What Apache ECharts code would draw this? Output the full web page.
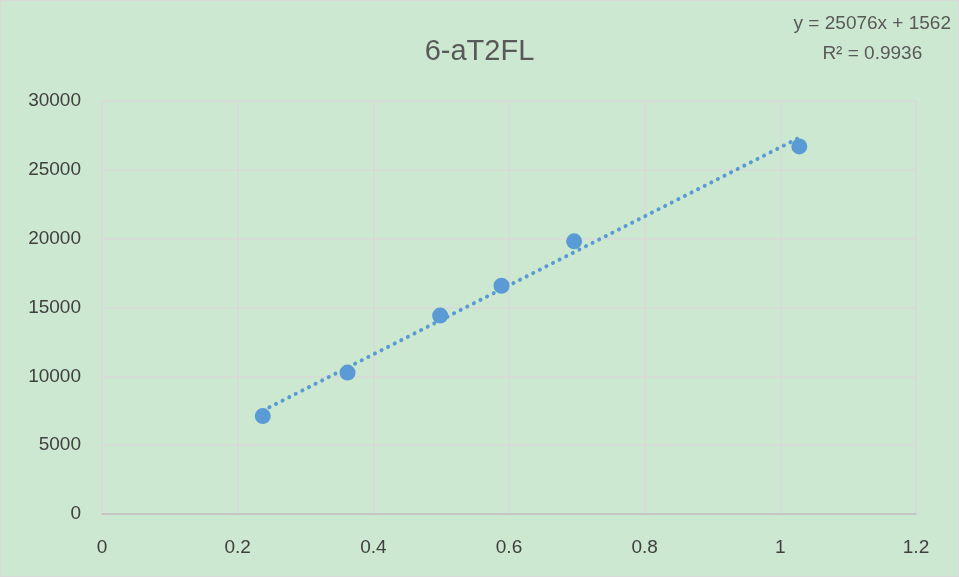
<!DOCTYPE html>
<html><head><meta charset="utf-8">
<script src="https://cdn.jsdelivr.net/npm/echarts@6/dist/echarts.min.js"></script>
<style>html,body{margin:0;padding:0;background:#cde8d0;}#c{width:959px;height:577px;box-sizing:border-box;border:1px solid #d9d9d9;}</style>
</head><body><div id="c"></div>
<script>
const titleText = "6-aT2FL";
const xValues = [0.237, 0.362, 0.4985, 0.589, 0.696, 1.028];
const yValues = [7110, 10270, 14410, 16580, 19810, 26700];
const trendX = [0.237, 1.028];
const trendY = [7510, 27340];
const equationLines = ["y = 25076x + 1562", "R² = 0.9936"];
const xTicks = [0, 0.2, 0.4, 0.6, 0.8, 1, 1.2];
const yTicks = [0, 5000, 10000, 15000, 20000, 25000, 30000];

const chart = echarts.init(document.getElementById('c'));
const font = "'Liberation Sans', sans-serif";
chart.setOption({
  backgroundColor: '#cde8d0',
  animation: false,
  title: {
    text: titleText, left: 'center', top: 31,
    textStyle: {fontFamily: font, fontSize: 29, fontWeight: 'normal', color: '#595959'}
  },
  graphic: [{
    type: 'text', right: 7, top: 8,
    style: {text: equationLines.join('\n'), font: "19px 'Liberation Sans', sans-serif", fill: '#595959', textAlign: 'center', lineHeight: 30}
  }],
  grid: {left: 101, right: 42, top: 100, bottom: 62, containLabel: false},
  xAxis: {
    type: 'value', min: xTicks[0], max: xTicks[xTicks.length-1], interval: 0.2,
    axisLine: {show: true, lineStyle: {color: '#bfbfbf', width: 1.5}},
    axisTick: {show: false},
    splitLine: {show: true, lineStyle: {color: '#d9d9d9', width: 1.5}},
    axisLabel: {fontFamily: font, fontSize: 19, color: '#404040', margin: 24}
  },
  yAxis: {
    type: 'value', min: yTicks[0], max: yTicks[yTicks.length-1], interval: 5000,
    axisLine: {show: false},
    axisTick: {show: false},
    splitLine: {show: true, lineStyle: {color: '#d9d9d9', width: 1.5}},
    axisLabel: {fontFamily: font, fontSize: 19, color: '#404040', margin: 21, formatter: v => String(v)}
  },
  series: [{
    type: 'line', data: trendX.map((x, i) => [x, trendY[i]]),
    showSymbol: false, symbol: 'none',
    lineStyle: {color: '#5b9bd5', width: 4, type: [0.1, 7.3], cap: 'round'}, z: 2
  }, {
    type: 'scatter', data: xValues.map((x, i) => [x, yValues[i]]),
    symbolSize: 16, itemStyle: {color: '#5b9bd5', opacity: 1}, z: 3
  }]
});
</script></body></html>
